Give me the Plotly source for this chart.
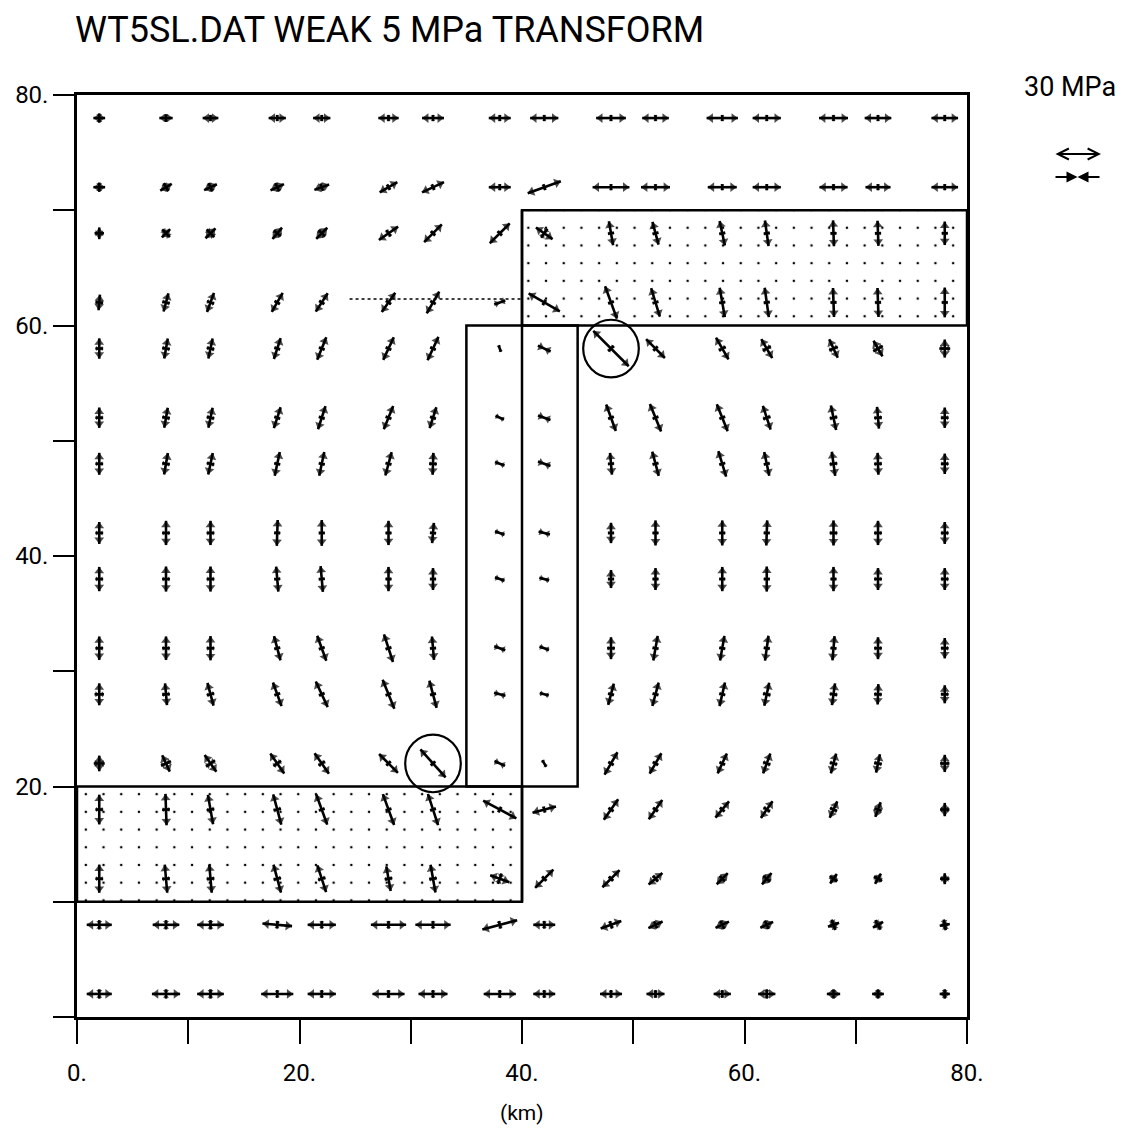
import math
import plotly.graph_objects as go

# ---------------- data ----------------
TITLE = "WT5SL.DAT WEAK 5 MPa TRANSFORM"
SCALE_LABEL = "30 MPa"
AXIS_LABEL = "(km)"

X_KM = [2, 8, 12, 18, 22, 28, 32, 38, 42, 48, 52, 58, 62, 68, 72, 78]
Y_KM = [78, 72, 68, 62, 58, 52, 48, 42, 38, 32, 28, 22, 18, 12, 8, 2]

# orientation of the main principal stress (deg, counter-clockwise from +x)
ANGLE_DEG = [
    [0, 0, 0, 0, 0, 0, 0, 0, 0, 0, 0, 0, 0, 0, 0, 0],
    [0, 30, 25, 25, 20, 30, 25, 0, 20, 0, 0, 0, 0, 0, 0, 0],
    [90, 45, 45, 50, 45, 35, 45, 45, -35, -80, -75, -78, -82, -88, -88, 90],
    [85, 75, 70, 60, 57, 55, 60, 20, -30, -70, -73, -80, -82, -88, -88, 90],
    [90, 80, 78, 72, 68, 65, 65, -70, -25, -45, -45, -60, -60, -65, -60, 90],
    [90, 80, 78, 72, 72, 68, 72, -25, -20, -70, -68, -68, -72, -78, -85, 90],
    [90, 80, 78, 78, 78, 75, 88, -20, -20, -85, -75, -73, -78, -82, -88, 90],
    [90, 90, 90, 88, 90, 90, 85, -20, -15, 90, 90, 90, 88, 90, 90, 90],
    [90, 90, 90, 95, 95, 90, 90, -20, -15, 90, 90, 90, 90, 90, 90, 90],
    [90, 90, 90, 105, 110, 108, 95, -20, -20, 90, 80, 80, 82, 85, 90, 90],
    [90, 95, 105, 110, 115, 112, 105, -15, -15, 75, 75, 77, 78, 82, 88, 90],
    [90, 115, 125, 125, 125, 135, 132, -25, -60, 60, 60, 65, 70, 75, 78, 90],
    [90, 92, 100, 105, 110, 110, 108, -28, 15, 55, 55, 50, 55, 65, 70, 90],
    [90, 95, 95, 105, 108, 100, 100, -20, 45, 45, 40, 45, 50, 55, 60, 90],
    [0, 0, 0, -5, 0, 0, 0, 15, 0, 20, 25, 25, 25, 20, 30, 10],
    [0, 0, 0, 0, 0, 0, 0, 0, 0, 0, 0, 0, 0, 0, 0, 0],
]

# main principal stress (MPa, + tension, - compression)
MAIN_MPA = [
    [7.5, 8.5, 10, 11, 11, 13, 14, 14, 18, 19, 17, 20, 18, 18.5, 17, 17],
    [7.5, 8.5, 9, 9.5, 10, 13, 15.5, 14, 22.5, 23.5, 18.5, 18.5, 18, 18, 16, 17],
    [7.5, 7.5, 9, 9.5, 10, 15, 16, 18, 13, 15.5, 15, 16, 16.5, 16.5, 16, 15],
    [10, 12, 13, 14, 14, 15, 16, -7.5, 23, 22, 19, 19, 19, 18.5, 18.5, 19],
    [13, 13, 13, 14, 15.5, 16, 16.5, -4.5, -9, 32, 17, 16, 14, 13, 11.5, 11.5],
    [13, 13, 13, 14, 15.5, 16, 14, -6, -8.5, 18, 19, 18.5, 16, 16, 14, 13],
    [14, 14, 14, 15.5, 15.5, 15.5, 14, -6.5, -8.5, 14, 16, 17, 15.5, 15.5, 14, 13],
    [14, 15.5, 15.5, 16.5, 16.5, 15.5, 13, -6.5, -7.5, 13, 16, 16, 16, 16, 15.5, 14],
    [15.5, 16, 16, 16, 16.5, 15.5, 14, -6.5, -6.5, 11.5, 14, 15.5, 16, 15.5, 14, 14],
    [15, 15, 15.5, 16, 17, 18.5, 15, -7.5, -6.5, 14, 16, 16, 16, 15.5, 14, 13],
    [14, 14, 15, 16, 18, 20, 18, -7.5, -6, 14, 15.5, 15.5, 15, 14, 13, 11.5],
    [10, 11.5, 13, 15.5, 16, 17, 24, -7.5, -5, 16.5, 15, 14, 13.5, 13, 12, 11],
    [19, 20, 19, 20, 20.5, 21, 21, 24, 15.5, 16, 15, 13.5, 13, 11.5, 10, 8.5],
    [18, 18, 18, 18.5, 18, 16, 18, 13, 16.5, 15.5, 11.5, 10, 9.5, 7.5, 7.5, 7],
    [16, 17, 17, 19, 18, 22.5, 22.5, 23, 14, 14, 10, 9.5, 9, 7.5, 7.5, 6.5],
    [16, 18, 17, 20.5, 18, 20.5, 18.5, 20.5, 14, 14, 11.5, 11, 11, 8.5, 7.5, 6.5],
]

# minor principal stress, perpendicular to the main one (MPa)
MINOR_MPA = [
    [-6, -5, -4, -4, -4, -4, -4, -4, -4, -4, -4, -4, -4, -4, -4, -4],
    [-6, -6, -6, -6, -5, -4, -4, -4, -4, -4, -4, -4, -4, -4, -4, -4],
    [-6, -7, -7, -6, -6, -5, -4, -4, -7, -4, -4, -4, -4, -4, -4, -4],
    [-5, -5, -5, -4, -4, -4, -4, 0, -4, -4, -4, -4, -4, -4, -4, -4],
    [-5, -5, -5, -4, -4, -4, -4, 0, 0, -5, -4, -5, -6, -6, -7, -7],
    [-5, -5, -5, -4, -4, -4, -4, 0, 0, -4, -4, -4, -5, -5, -5, -5],
    [-5, -5, -5, -4, -4, -4, -5, 0, 0, -4, -4, -4, -4, -5, -5, -5],
    [-5, -5, -5, -4, -4, -4, -4, 0, 0, -4, -4, -4, -4, -5, -5, -5],
    [-5, -5, -5, -4, -4, -4, -4, 0, 0, -4, -4, -4, -4, -4, -5, -5],
    [-5, -5, -5, -4, -4, -4, -4, 0, 0, -5, -4, -4, -4, -4, -5, -5],
    [-6, -5, -5, -4, -4, -4, -4, 0, 0, -4, -4, -4, -5, -5, -5, -5],
    [-7, -7, -7, -6, -5, -4, -4, 0, 0, -4, -4, -4, -5, -5, -5, -6],
    [-5, -5, -5, -5, -4, -4, -4, -4, -4, -4, -4, -4, -5, -5, -5, -6],
    [-5, -5, -5, -5, -5, -5, -5, -7, -4, -4, -5, -5, -6, -6, -6, -6],
    [-6, -6, -6, -5, -5, -5, -5, -5, -5, -5, -5, -6, -6, -7, -7, -7],
    [-6, -6, -6, -5, -5, -5, -5, -5, -5, -5, -5, -5, -6, -6, -6, -6],
]

# model geometry (km)
FAULT_X = 40
FAULT_Y = [10, 70]
WEAK_LOWER = {"x": [0, 40], "y": [10, 20]}
WEAK_UPPER = {"x": [40, 80], "y": [60, 70]}
TRANSFORM_BOX = {"x": [35, 45], "y": [20, 60]}
CIRCLED_X = [32, 48]
CIRCLED_Y = [22, 58]
CIRCLE_R_KM = 2.5
PROFILE_X = [24.5, 40]
PROFILE_Y = [62.3, 62.3]

X_TICKS = [0, 10, 20, 30, 40, 50, 60, 70, 80]
X_TICK_TEXT = ["0.", "", "20.", "", "40.", "", "60.", "", "80."]
Y_TICKS = [0, 10, 20, 30, 40, 50, 60, 70, 80]
Y_TICK_TEXT = ["", "", "20.", "", "40.", "", "60.", "", "80."]
SCALE_MPA = 30

# ---------------- layout constants ----------------
OFF = 8                      # page offset of the plot div (body margin)
W, H = 1116, 1121
ML, MT = 69, 87
PW, PH = 890, 922
MR, MB = W - ML - PW, H - MT - PH
XR, YR = [0, 80], [0, 80]
PXX = PW / (XR[1] - XR[0])
PXY = PH / (YR[1] - YR[0])
PX_PER_MPA = 47 / 30.0
HEAD = 8.5
FONT = "Roboto, 'DejaVu Sans', sans-serif"


def paper_x(px):
    return (px - OFF - ML) / PW


def paper_y(py):
    return (MT + PH - (py - OFF)) / PH


lx, ly = [], []
hx, hy, hang, hsize = [], [], [], []


def add_axis(x, y, ang, mag):
    if mag == 0:
        return
    L = abs(mag) * PX_PER_MPA
    t = math.radians(ang)
    ux, uy = math.cos(t), math.sin(t)

    def pt(d):
        return x + d * ux / PXX, y + d * uy / PXY

    a, b = pt(-L / 2), pt(L / 2)
    lx.extend([a[0], b[0], None])
    ly.extend([a[1], b[1], None])
    s = min(HEAD, 0.55 * L)
    r = s / 2
    if mag > 0:
        for sgn in (1, -1):
            c = pt(sgn * (L / 2 - r))
            hx.append(c[0]); hy.append(c[1])
            hang.append(90 - ang - (0 if sgn > 0 else 180))
            hsize.append(s)
    else:
        for sgn in (1, -1):
            c = pt(sgn * r)
            hx.append(c[0]); hy.append(c[1])
            hang.append(90 - ang - (180 if sgn > 0 else 0))
            hsize.append(s)


for j, yv in enumerate(Y_KM):
    for i, xv in enumerate(X_KM):
        add_axis(xv, yv, ANGLE_DEG[j][i], MAIN_MPA[j][i])
        add_axis(xv, yv, ANGLE_DEG[j][i] + 90, MINOR_MPA[j][i])

fig = go.Figure()


def rect_trace(reg):
    x0, x1 = reg["x"]
    y0, y1 = reg["y"]
    return go.Scatter(
        x=[x0, x1, x1, x0, x0], y=[y0, y0, y1, y1, y0],
        mode="lines", fill="toself", fillcolor="white",
        fillpattern=dict(shape=".", size=17.7, solidity=0.016,
                         fgcolor="black", bgcolor="white", fgopacity=1),
        line=dict(color="black", width=2.5), hoverinfo="skip")


fig.add_trace(rect_trace(WEAK_LOWER))
fig.add_trace(rect_trace(WEAK_UPPER))

fig.add_trace(go.Scatter(x=PROFILE_X, y=PROFILE_Y, mode="lines",
                         line=dict(color="black", width=1.6, dash="dot"),
                         hoverinfo="skip"))

fig.add_trace(go.Scatter(x=lx, y=ly, mode="lines",
                         line=dict(color="black", width=2.6),
                         hoverinfo="skip"))
fig.add_trace(go.Scatter(x=hx, y=hy, mode="markers",
                         marker=dict(symbol="triangle-up", size=hsize,
                                     angle=hang, color="black",
                                     line=dict(width=0)),
                         hoverinfo="skip"))

shapes = [
    dict(type="rect", xref="x", yref="y",
         x0=TRANSFORM_BOX["x"][0], x1=TRANSFORM_BOX["x"][1],
         y0=TRANSFORM_BOX["y"][0], y1=TRANSFORM_BOX["y"][1],
         line=dict(color="black", width=2.5)),
    dict(type="line", xref="x", yref="y",
         x0=FAULT_X, x1=FAULT_X, y0=FAULT_Y[0], y1=FAULT_Y[1],
         line=dict(color="black", width=2.5)),
]
for cx, cy in zip(CIRCLED_X, CIRCLED_Y):
    shapes.append(dict(type="circle", xref="x", yref="y",
                       x0=cx - CIRCLE_R_KM, x1=cx + CIRCLE_R_KM,
                       y0=cy - CIRCLE_R_KM, y1=cy + CIRCLE_R_KM,
                       line=dict(color="black", width=2.2)))

legend_len = SCALE_MPA * PX_PER_MPA
annotations = [
    dict(text=TITLE, xref="paper", yref="paper", x=paper_x(73), y=paper_y(30),
         xanchor="left", yanchor="middle", showarrow=False,
         font=dict(family=FONT, size=36, color="black")),
    dict(text=SCALE_LABEL, xref="paper", yref="paper", x=paper_x(1070), y=paper_y(87),
         xanchor="center", yanchor="middle", showarrow=False,
         font=dict(family=FONT, size=27, color="black")),
    dict(text=AXIS_LABEL, xref="paper", yref="paper", x=paper_x(522), y=paper_y(1113),
         xanchor="center", yanchor="middle", showarrow=False,
         font=dict(family=FONT, size=21, color="black")),
    # tension scale arrow
    dict(text="", xref="paper", yref="paper", x=paper_x(1054) + legend_len / PW,
         y=paper_y(154), ax=-legend_len, ay=0, showarrow=True,
         arrowside="end+start", arrowhead=5, arrowsize=1.2, arrowwidth=1.8,
         arrowcolor="black", standoff=0, startstandoff=0),
    # compression scale arrow (two halves meeting at the centre)
    dict(text="", xref="paper", yref="paper", x=paper_x(1054) + legend_len / 2 / PW,
         y=paper_y(177), ax=-legend_len / 2, ay=0, showarrow=True,
         arrowhead=2, arrowsize=1.1, arrowwidth=2, arrowcolor="black",
         standoff=0),
    dict(text="", xref="paper", yref="paper", x=paper_x(1054) + legend_len / 2 / PW,
         y=paper_y(177), ax=legend_len / 2, ay=0, showarrow=True,
         arrowhead=2, arrowsize=1.1, arrowwidth=2, arrowcolor="black",
         standoff=0),
]

axis_common = dict(showgrid=False, zeroline=False, showline=True, mirror=True,
                   linecolor="black", linewidth=2.5, ticks="outside",
                   tickcolor="black", tickwidth=2,
                   tickfont=dict(family=FONT, size=24, color="black"))

fig.update_layout(
    width=W, height=H,
    margin=dict(l=ML, r=MR, t=MT, b=MB, autoexpand=False),
    paper_bgcolor="white", plot_bgcolor="white",
    showlegend=False,
    shapes=shapes, annotations=annotations,
    xaxis=dict(range=XR, tickmode="array", tickvals=X_TICKS, ticktext=X_TICK_TEXT,
               ticklen=24, ticklabelstandoff=8, **axis_common),
    yaxis=dict(range=YR, tickmode="array", tickvals=Y_TICKS, ticktext=Y_TICK_TEXT,
               ticklen=21, ticklabelstandoff=0, **axis_common),
)

fig.write_html("out.html")
